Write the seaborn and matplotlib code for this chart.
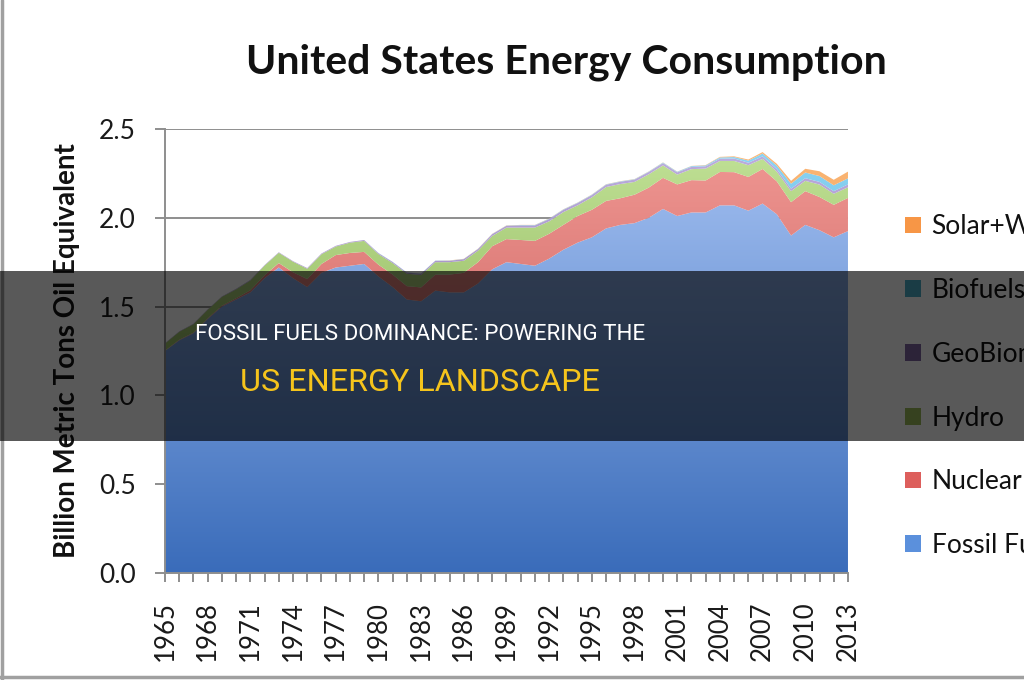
import numpy as np
import pandas as pd
import matplotlib
matplotlib.use("Agg")
import matplotlib.pyplot as plt
import seaborn as sns
from matplotlib.colors import LinearSegmentedColormap
from matplotlib.patches import Rectangle, Patch
from matplotlib.lines import Line2D

# ---------------- data (billion metric tons oil equivalent) ----------------
years = list(range(1965, 2014))
fossil = [1.25, 1.31, 1.35, 1.43, 1.50, 1.54, 1.58, 1.66, 1.72, 1.66,
          1.61, 1.69, 1.72, 1.73, 1.74, 1.67, 1.61, 1.54, 1.53, 1.59,
          1.58, 1.58, 1.63, 1.71, 1.75, 1.74, 1.73, 1.77, 1.82, 1.86,
          1.89, 1.94, 1.96, 1.97, 2.00, 2.05, 2.01, 2.03, 2.03, 2.07,
          2.07, 2.04, 2.08, 2.02, 1.90, 1.96, 1.93, 1.89, 1.925]
nuclear = [0.002, 0.003, 0.003, 0.004, 0.005, 0.007, 0.012, 0.016, 0.025, 0.033,
           0.045, 0.050, 0.070, 0.072, 0.068, 0.066, 0.070, 0.075, 0.078, 0.090,
           0.100, 0.110, 0.120, 0.130, 0.130, 0.135, 0.140, 0.140, 0.140, 0.150,
           0.155, 0.155, 0.150, 0.160, 0.170, 0.175, 0.178, 0.182, 0.180, 0.188,
           0.187, 0.190, 0.195, 0.185, 0.188, 0.190, 0.187, 0.183, 0.187]
hydro = [0.040, 0.045, 0.048, 0.048, 0.050, 0.050, 0.055, 0.055, 0.058, 0.060,
         0.058, 0.055, 0.048, 0.058, 0.062, 0.060, 0.065, 0.070, 0.070, 0.070,
         0.070, 0.068, 0.065, 0.058, 0.065, 0.070, 0.075, 0.070, 0.072, 0.060,
         0.070, 0.078, 0.080, 0.072, 0.075, 0.070, 0.055, 0.062, 0.067, 0.062,
         0.063, 0.066, 0.057, 0.055, 0.062, 0.058, 0.070, 0.062, 0.060]
geobio = [0.002, 0.002, 0.002, 0.002, 0.002, 0.003, 0.003, 0.003, 0.003, 0.003,
          0.004, 0.004, 0.004, 0.004, 0.005, 0.005, 0.006, 0.006, 0.007, 0.008,
          0.008, 0.009, 0.009, 0.010, 0.010, 0.012, 0.012, 0.013, 0.013, 0.013,
          0.013, 0.013, 0.013, 0.013, 0.013, 0.013, 0.013, 0.013, 0.013, 0.013,
          0.014, 0.014, 0.014, 0.014, 0.014, 0.015, 0.015, 0.015, 0.016]
biofuels = [0.0] * 15 + [0.001] * 10 + [0.002] * 10 + \
           [0.003, 0.003, 0.004, 0.005, 0.007, 0.008, 0.012, 0.016, 0.020, 0.028,
            0.032, 0.033, 0.033, 0.034]
solar_wind = [0.0] * 20 + [0.001] * 18 + \
             [0.002, 0.003, 0.004, 0.006, 0.008, 0.010, 0.016, 0.021, 0.027, 0.031, 0.038]
series_names = ["Fossil Fuels", "Nuclear", "Hydro", "GeoBiomass", "Biofuels", "Solar+Wind"]
tick_years = list(range(1965, 2014, 3))
y_ticks = [0.0, 0.5, 1.0, 1.5, 2.0, 2.5]

df = pd.DataFrame({"year": years, "Fossil Fuels": fossil, "Nuclear": nuclear,
                   "Hydro": hydro, "GeoBiomass": geobio, "Biofuels": biofuels,
                   "Solar+Wind": solar_wind})

# ---------------- styling ----------------
sns.set_theme(style="white")
plt.rcParams['font.family'] = ['Lato', 'DejaVu Sans']

legend_colors = ["#5b90dc", "#dd5f5c", "#9bbb59", "#8064a2", "#4bacc6", "#f79646"]
# gradient colours: (at y=0, at y=2.5)
grad_colors = [("#3a6cba", "#a8c4f4"),
               ("#b94a46", "#f29a96"),
               ("#6f9a35", "#c4e49a"),
               ("#7a62a0", "#c0b0e0"),
               ("#3d9cc4", "#8fd6f6"),
               ("#f08a3a", "#fbb878")]

fig = plt.figure(figsize=(10.24, 6.8), dpi=100, facecolor="white")
ax = fig.add_axes([0.1611, 0.1574, 0.667, 0.6529])
ax.set_facecolor("white")

polys = ax.stackplot(df["year"], *[df[n] for n in series_names],
                     colors=legend_colors, linewidth=0, zorder=2)
grad = np.linspace(0, 1, 256).reshape(-1, 1)
for poly, (c0, c1) in zip(polys, grad_colors):
    cmap = LinearSegmentedColormap.from_list("g", [c0, c1])
    im = ax.imshow(grad, cmap=cmap, extent=[1965, 2013, 0, 2.5], origin="lower",
                   aspect="auto", zorder=2, interpolation="bilinear")
    im.set_clip_path(poly.get_paths()[0], transform=ax.transData)
    poly.set_facecolor("none")

ax.set_xlim(1965, 2013)
ax.set_ylim(0, 2.5)
ax.set_axisbelow(True)
ax.set_yticks(y_ticks)
ax.set_yticklabels([f"{v:.1f}" for v in y_ticks])
ax.set_xticks(years)
ax.set_xticklabels([str(y) if y in tick_years else "" for y in years], rotation=90)
ax.yaxis.grid(True, color="#8e8e8e", linewidth=1.4)
ax.xaxis.grid(False)
for s in ["top", "right"]:
    ax.spines[s].set_visible(False)
for s in ["left", "bottom"]:
    ax.spines[s].set_color("#8e8e8e")
    ax.spines[s].set_linewidth(1.4)
ax.tick_params(axis="y", length=7, width=1.4, color="#8e8e8e", pad=14,
               labelsize=19, labelcolor="#1a1a1a", left=True)
ax.tick_params(axis="x", length=6.5, width=1.4, color="#8e8e8e", pad=14,
               labelsize=18.5, labelcolor="#1a1a1a", bottom=True)
ax.set_ylabel("Billion Metric Tons Oil Equivalent", fontsize=20, fontweight="bold",
              color="#111111")
ax.yaxis.set_label_coords(-0.1245, 0.5)

fig.text(0.553, 0.909, "United States Energy Consumption", fontsize=29.5,
         fontweight="bold", ha="center", va="center", color="#111111")

handles = [Patch(facecolor=c, edgecolor="none") for c in legend_colors][::-1]
ax.legend(handles, series_names[::-1], loc="upper left",
          bbox_to_anchor=(0.884, 0.685), bbox_transform=fig.transFigure,
          frameon=False, fontsize=19, handlelength=0.6, handleheight=0.6,
          handletextpad=0.4, labelspacing=1.47, borderpad=0, borderaxespad=0,
          labelcolor="#111111")

# image frame lines
fig.add_artist(Line2D([0.002, 0.002], [0, 1], transform=fig.transFigure,
                      color="#a0a0a0", linewidth=2.5))
fig.add_artist(Line2D([0, 1], [0.004, 0.004], transform=fig.transFigure,
                      color="#a0a0a0", linewidth=2.5))

# dark banner overlay
fig.add_artist(Rectangle((0, 0.3515), 1, 0.25, transform=fig.transFigure,
                         facecolor="black", alpha=0.65, edgecolor="none", zorder=10))
fig.text(0.41, 0.5088, "FOSSIL FUELS DOMINANCE: POWERING THE",
         family=["Roboto", "DejaVu Sans"], fontsize=16.1, color="white",
         ha="center", va="center", zorder=11)
fig.text(0.41, 0.4368, "US ENERGY LANDSCAPE",
         family=["Roboto", "DejaVu Sans"], fontsize=23.3, color="#f5c41c",
         ha="center", va="center", zorder=11)

fig.savefig("out.png", dpi=100, facecolor="white")
